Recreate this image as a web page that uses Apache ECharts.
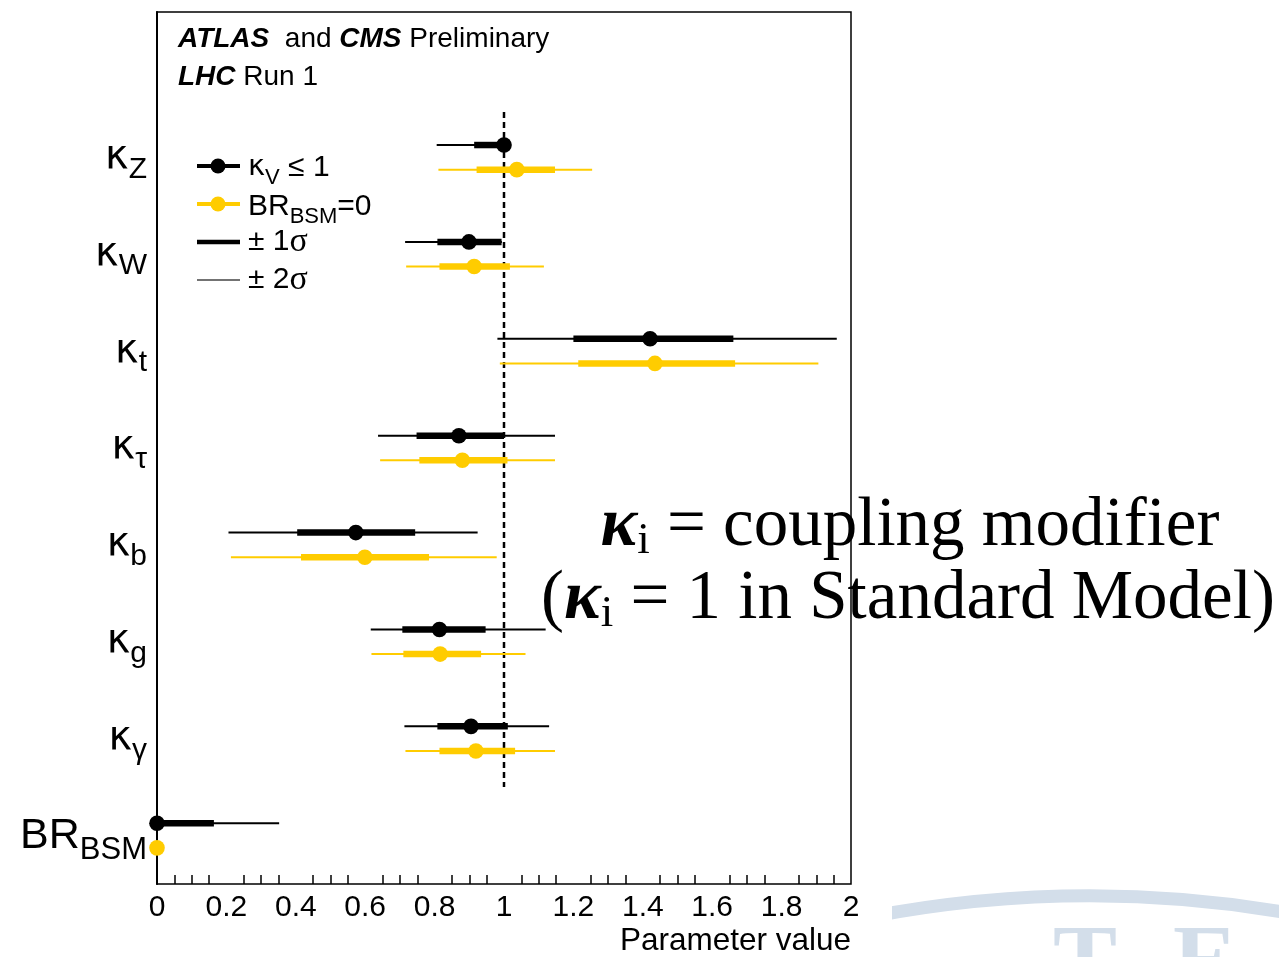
<!DOCTYPE html>
<html>
<head>
<meta charset="utf-8">
<script src="https://cdn.jsdelivr.net/npm/echarts@6/dist/echarts.min.js"></script>
<style>
html, body { margin: 0; padding: 0; background: #fff; }
#main { width: 1279px; height: 957px; }
</style>
</head>
<body>
<div id="main"></div>
<script>
// rows, top to bottom (first row is empty: title + legend live there)
var rowNames = ['', 'κZ', 'κW', 'κt', 'κτ', 'κb', 'κg', 'κγ', 'BRBSM'];
var xTicks = [0, 0.2, 0.4, 0.6, 0.8, 1, 1.2, 1.4, 1.6, 1.8, 2];

// kappa_V <= 1  (black)
var kvCentral = [1.000, 0.899, 1.421, 0.870, 0.573, 0.814, 0.905, 0.000];
var kvLo1     = [0.914, 0.808, 1.200, 0.748, 0.404, 0.707, 0.808, 0.000];
var kvHi1     = [1.000, 0.993, 1.661, 1.000, 0.744, 0.947, 1.011, 0.164];
var kvLo2     = [0.806, 0.715, 0.981, 0.637, 0.206, 0.616, 0.713, 0.000];
var kvHi2     = [1.000, 0.994, 1.959, 1.147, 0.924, 1.120, 1.130, 0.352];

// BR_BSM = 0  (yellow)
var brCentral = [1.037, 0.914, 1.435, 0.880, 0.599, 0.816, 0.919, 0.000];
var brLo1     = [0.921, 0.814, 1.214, 0.756, 0.415, 0.710, 0.814, 0.000];
var brHi1     = [1.147, 1.017, 1.666, 1.010, 0.784, 0.934, 1.032, 0.000];
var brLo2     = [0.811, 0.718, 0.988, 0.643, 0.213, 0.618, 0.716, 0.000];
var brHi2     = [1.254, 1.115, 1.906, 1.147, 0.979, 1.062, 1.147, 0.000];

var smValue = [1];   // Standard Model line

var BLACK = '#000000';
var GOLD = '#ffcc00';
var SANS = 'Liberation Sans';
var GREEK = 'DejaVu Sans';

function pack(c, l1, h1, l2, h2) {
    var out = [];
    for (var i = 0; i < c.length; i++) {
        out.push([c[i], l1[i], h1[i], l2[i], h2[i], i + 1]);
    }
    return out;
}

// draws one point with its 1 and 2 sigma bars; side = -1 upper, +1 lower
function makeRender(color, side) {
    return function (params, api) {
        var band = api.size([0, 1])[1];
        var y = api.coord([0, api.value(5)])[1] + side * band * 0.127;
        var px = function (v) { return api.coord([v, 0])[0]; };
        return {
            type: 'group',
            children: [
                { type: 'line', shape: { x1: px(api.value(3)), y1: y, x2: px(api.value(4)), y2: y },
                  style: { stroke: color, lineWidth: 2 } },
                { type: 'line', shape: { x1: px(api.value(1)), y1: y, x2: px(api.value(2)), y2: y },
                  style: { stroke: color, lineWidth: 6.5 } },
                { type: 'circle', shape: { cx: px(api.value(0)), cy: y, r: 7.8 },
                  style: { fill: color } }
            ]
        };
    };
}

function renderSM(params, api) {
    var band = api.size([0, 1])[1];
    var x = api.coord([api.value(0), 0])[0];
    var y1 = api.coord([0, 1])[1] - band / 2 + 3;
    var y2 = api.coord([0, 7])[1] + band / 2;
    return { type: 'line', shape: { x1: x, y1: y1, x2: x, y2: y2 },
             style: { stroke: BLACK, lineWidth: 2.5, lineDash: [6, 4] } };
}

function rowLabel(v) {
    if (v === 'BRBSM') return '{b|BR}{bs|BSM}';
    if (!v) return '';
    return '{k|κ}{s|' + v.slice(1) + '}';
}

var myChart = echarts.init(document.getElementById('main'), null, { renderer: 'canvas' });

var option = {
    backgroundColor: '#ffffff',
    animation: false,
    grid: { left: 157, right: 428, top: 12, bottom: 72, show: true, borderColor: BLACK, borderWidth: 1.5 },
    xAxis: {
        type: 'value', min: 0, max: 2, interval: 0.2,
        axisLine: { lineStyle: { color: BLACK, width: 2 } },
        axisTick: { inside: true, length: 20, lineStyle: { color: BLACK, width: 1.5 } },
        minorTick: { show: true, splitNumber: 4, length: 9, lineStyle: { color: BLACK, width: 1.5 } },
        splitLine: { show: false },
        axisLabel: {
            margin: 9, fontSize: 30, color: BLACK, fontFamily: SANS,
            formatter: function (v) { return xTicks.indexOf(+v.toFixed(1)) >= 0 ? String(+v.toFixed(1)) : ''; }
        },
        name: 'Parameter value', nameLocation: 'end', nameGap: 0,
        nameTextStyle: { fontSize: 31.5, color: BLACK, fontFamily: SANS, align: 'right', verticalAlign: 'top', padding: [41, 0, 0, 0] }
    },
    yAxis: {
        type: 'category', data: rowNames, inverse: true,
        axisLine: { lineStyle: { color: BLACK, width: 2 } },
        axisTick: { inside: true, length: 26, lineStyle: { color: BLACK, width: 1.5 } },
        axisLabel: {
            margin: 10, color: BLACK, fontFamily: SANS, formatter: rowLabel,
            rich: {
                k: { fontSize: 40, lineHeight: 40, verticalAlign: 'top', fontFamily: GREEK },
                s: { fontSize: 30, lineHeight: 30, verticalAlign: 'top', padding: [17, 0, 0, 0], fontFamily: SANS },
                b: { fontSize: 43, lineHeight: 42, verticalAlign: 'top', fontFamily: SANS },
                bs: { fontSize: 31, lineHeight: 31, verticalAlign: 'top', padding: [20, 0, 0, 0], fontFamily: SANS }
            }
        },
        splitLine: { show: false }
    },
    series: [
        { type: 'custom', name: 'SM', renderItem: renderSM, data: smValue.map(function (v) { return [v]; }), z: 1 },
        { type: 'custom', name: 'kV<=1', renderItem: makeRender(BLACK, -1),
          data: pack(kvCentral, kvLo1, kvHi1, kvLo2, kvHi2), encode: { x: [0, 1, 2, 3, 4], y: 5 }, z: 3 },
        { type: 'custom', name: 'BRBSM=0', renderItem: makeRender(GOLD, 1),
          data: pack(brCentral, brLo1, brHi1, brLo2, brHi2), encode: { x: [0, 1, 2, 3, 4], y: 5 }, z: 3 }
    ],
    graphic: [
        // watermark in the corner of the slide
        { type: 'arc', z: -20, shape: { cx: 1090, cy: 2068, r: 1172, startAngle: -Math.PI / 2 - 0.19, endAngle: -Math.PI / 2 + 0.18 },
          style: { stroke: '#d3deea', lineWidth: 13, fill: null } },
        { type: 'text', z: -20, x: 1085, y: 918, style: { text: 'T', font: 'bold 96px "Liberation Serif"', fill: '#d3deea', textAlign: 'center', textVerticalAlign: 'top' } },
        { type: 'text', z: -20, x: 1205, y: 918, style: { text: 'E', font: 'bold 96px "Liberation Serif"', fill: '#d3deea', textAlign: 'center', textVerticalAlign: 'top' } },
        { type: 'text', z: -20, x: 875, y: 924, style: { text: 'A', font: 'bold 96px "Liberation Serif"', fill: '#d3deea', textAlign: 'center', textVerticalAlign: 'top' } },
        { type: 'rect', z: -15, shape: { x: 853, y: 880, width: 39, height: 77 }, style: { fill: '#ffffff' } },

        // header
        { type: 'text', x: 178, y: 39, style: {
            text: '{bi|ATLAS}{n|  and }{bi|CMS}{n| Preliminary}', textVerticalAlign: 'middle',
            rich: { bi: { font: 'italic bold 28px "Liberation Sans"', fill: BLACK }, n: { font: '28px "Liberation Sans"', fill: BLACK } } } },
        { type: 'text', x: 178, y: 77, style: {
            text: '{bi|LHC}{n| Run 1}', textVerticalAlign: 'middle',
            rich: { bi: { font: 'italic bold 28px "Liberation Sans"', fill: BLACK }, n: { font: '28px "Liberation Sans"', fill: BLACK } } } },

        // legend
        { type: 'line', shape: { x1: 197, y1: 166, x2: 240, y2: 166 }, style: { stroke: BLACK, lineWidth: 4 } },
        { type: 'circle', shape: { cx: 218, cy: 166, r: 7.5 }, style: { fill: BLACK } },
        { type: 'line', shape: { x1: 197, y1: 204, x2: 240, y2: 204 }, style: { stroke: GOLD, lineWidth: 4 } },
        { type: 'circle', shape: { cx: 218, cy: 204, r: 7.5 }, style: { fill: GOLD } },
        { type: 'line', shape: { x1: 197, y1: 242, x2: 240, y2: 242 }, style: { stroke: BLACK, lineWidth: 4.5 } },
        { type: 'line', shape: { x1: 197, y1: 280, x2: 240, y2: 280 }, style: { stroke: '#444444', lineWidth: 1.5 } },
        { type: 'text', x: 248, y: 168, style: {
            text: '{g|κ}{sb|V}{m| ≤ 1}', textVerticalAlign: 'middle',
            rich: { g: { font: '29px "DejaVu Sans"', lineHeight: 30, verticalAlign: 'top', fill: BLACK },
                    m: { font: '30px "Liberation Sans"', lineHeight: 30, verticalAlign: 'top', fill: BLACK },
                    sb: { font: '22px "Liberation Sans"', lineHeight: 22, verticalAlign: 'top', padding: [14, 0, 0, 0], fill: BLACK } } } },
        { type: 'text', x: 248, y: 207, style: {
            text: '{m|BR}{sb|BSM}{m|=0}', textVerticalAlign: 'middle',
            rich: { m: { font: '30px "Liberation Sans"', lineHeight: 30, verticalAlign: 'top', fill: BLACK },
                    sb: { font: '22px "Liberation Sans"', lineHeight: 22, verticalAlign: 'top', padding: [14, 0, 0, 0], fill: BLACK } } } },
        { type: 'text', x: 248, y: 242, style: {
            text: '{m|± 1}{g|σ}', textVerticalAlign: 'middle',
            rich: { m: { font: '30px "Liberation Sans"', fill: BLACK }, g: { font: '34px "Liberation Serif"', fill: BLACK } } } },
        { type: 'text', x: 248, y: 280, style: {
            text: '{m|± 2}{g|σ}', textVerticalAlign: 'middle',
            rich: { m: { font: '30px "Liberation Sans"', fill: BLACK }, g: { font: '34px "Liberation Serif"', fill: BLACK } } } },

        // slide annotation
        { type: 'text', z: -5, x: 910, y: 527, style: {
            text: '{k|κ}{i|i}{t| = coupling modifier}', textAlign: 'center', textVerticalAlign: 'middle',
            rich: { k: { font: 'italic bold 69px "Liberation Serif"', lineHeight: 69, verticalAlign: 'top', fill: BLACK },
                    i: { font: '45px "Liberation Serif"', lineHeight: 45, verticalAlign: 'top', padding: [26, 0, 0, 0], fill: BLACK },
                    t: { font: '69px "Liberation Serif"', lineHeight: 69, verticalAlign: 'top', fill: BLACK } } } },
        { type: 'text', z: -5, x: 908, y: 600, style: {
            text: '{t|(}{k|κ}{i|i}{t| = 1 in Standard Model)}', textAlign: 'center', textVerticalAlign: 'middle',
            rich: { k: { font: 'italic bold 69px "Liberation Serif"', lineHeight: 69, verticalAlign: 'top', fill: BLACK },
                    i: { font: '45px "Liberation Serif"', lineHeight: 45, verticalAlign: 'top', padding: [26, 0, 0, 0], fill: BLACK },
                    t: { font: '69px "Liberation Serif"', lineHeight: 69, verticalAlign: 'top', fill: BLACK } } } }
    ]
};

if (option && typeof option === 'object') {
    myChart.setOption(option, true);
}
</script>
</body>
</html>
